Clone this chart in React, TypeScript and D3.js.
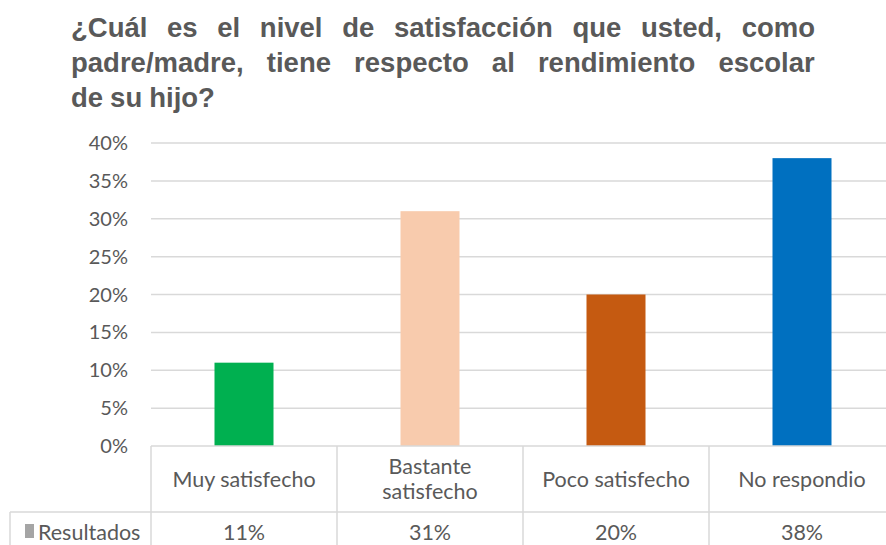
import React, { useEffect, useRef } from "react";
import * as d3 from "d3";

const titleLines = [
  "¿Cuál es el nivel de satisfacción que usted, como",
  "padre/madre, tiene respecto al rendimiento escolar",
  "de su hijo?",
];
const categories = ["Muy satisfecho", "Bastante satisfecho", "Poco satisfecho", "No respondio"];
const categoryLines = [["Muy satisfecho"], ["Bastante", "satisfecho"], ["Poco satisfecho"], ["No respondio"]];
const values = [0.11, 0.31, 0.2, 0.38];
const valueLabels = ["11%", "31%", "20%", "38%"];
const barColors = ["#00B050", "#F8CBAD", "#C55A11", "#0070C0"];
const yTicks = [0, 0.05, 0.1, 0.15, 0.2, 0.25, 0.3, 0.35, 0.4];
const seriesName = "Resultados";

const W = 886;
const H = 545;

export default function App() {
  const ref = useRef<SVGSVGElement>(null);

  useEffect(() => {
    const svg = d3.select(ref.current);
    svg.selectAll("*").remove();

    const textColor = "#595959";
    const lineColor = "#D9D9D9";
    const font = "Lato, 'Open Sans', sans-serif";
    const titleFont = "'Liberation Sans', Arimo, Arial, Helvetica, sans-serif";

    // Title (justified)
    const tLeft = 71, tRight = 815;
    const tg = svg.append("g");
    const layoutTitle = () => {
      tg.selectAll("*").remove();
      titleLines.forEach((line, li) => {
        const words = line.split(" ");
        const y = 37 + li * 35;
        const nodes = words.map((w) =>
          tg.append("text")
            .attr("y", y)
            .style("font-family", titleFont)
            .style("font-weight", "700")
            .style("font-size", "27.5px")
            .attr("fill", textColor)
            .text(w)
        );
        const widths = nodes.map((n) => (n.node() as SVGTextElement).getBBox().width);
        const total = d3.sum(widths);
        const last = li === titleLines.length - 1;
        const gap = last ? 7 : (tRight - tLeft - total) / (words.length - 1);
        let x = tLeft;
        nodes.forEach((n, i) => {
          n.attr("x", x);
          x += widths[i] + gap;
        });
      });
    };
    layoutTitle();
    if ((document as any).fonts && (document as any).fonts.ready) {
      (document as any).fonts.ready.then(layoutTitle);
    }

    const plotLeft = 151;
    const colW = 186;
    const y0 = 446;
    const y1 = 143;
    const x = d3.scaleBand<string>().domain(categories).range([plotLeft, plotLeft + colW * categories.length]).padding(0);
    const y = d3.scaleLinear().domain([0, 0.4]).range([y0, y1]);

    // gridlines
    svg.append("g").selectAll("line").data(yTicks.slice(1)).join("line")
      .attr("x1", plotLeft).attr("x2", W)
      .attr("y1", (d) => y(d)).attr("y2", (d) => y(d))
      .attr("stroke", lineColor).attr("stroke-width", 1.5);

    // tick labels
    svg.append("g").selectAll("text").data(yTicks).join("text")
      .attr("x", 128).attr("y", (d) => y(d)).attr("dy", "0.35em")
      .attr("text-anchor", "end")
      .attr("font-family", font).attr("font-size", 20).attr("fill", textColor)
      .text((d) => d3.format(".0%")(d));

    // bars
    const bw = 59;
    svg.append("g").selectAll("rect").data(values).join("rect")
      .attr("x", (_d, i) => (x(categories[i]) as number) + (colW - bw) / 2)
      .attr("width", bw)
      .attr("y", (d) => y(d))
      .attr("height", (d) => y0 - y(d))
      .attr("fill", (_d, i) => barColors[i]);

    // data table
    const rowMid = 512;
    const tbl = svg.append("g").attr("stroke", lineColor).attr("stroke-width", 1.5);
    tbl.append("line").attr("x1", plotLeft).attr("x2", W).attr("y1", y0).attr("y2", y0);
    tbl.append("line").attr("x1", 10).attr("x2", W).attr("y1", rowMid).attr("y2", rowMid);
    tbl.append("line").attr("x1", 10).attr("x2", 10).attr("y1", rowMid).attr("y2", H);
    categories.forEach((c) => {
      const xx = x(c) as number;
      tbl.append("line").attr("x1", xx).attr("x2", xx).attr("y1", y0).attr("y2", H);
    });

    const tableFs = 21.5;
    // category labels
    categories.forEach((c, i) => {
      const cx = (x(c) as number) + colW / 2;
      const lines = categoryLines[i];
      const lh = 25;
      const startY = (y0 + rowMid) / 2 - ((lines.length - 1) * lh) / 2;
      lines.forEach((l, j) => {
        svg.append("text")
          .attr("x", cx).attr("y", startY + j * lh).attr("dy", "0.35em")
          .attr("text-anchor", "middle")
          .attr("font-family", font).attr("font-size", tableFs).attr("fill", textColor)
          .text(l);
      });
      svg.append("text")
        .attr("x", cx).attr("y", 532).attr("dy", "0.35em")
        .attr("text-anchor", "middle")
        .attr("font-family", font).attr("font-size", tableFs).attr("fill", textColor)
        .text(valueLabels[i]);
    });

    // legend key
    svg.append("rect").attr("x", 25).attr("y", 524).attr("width", 9).attr("height", 14).attr("fill", "#A5A5A5");
    svg.append("text")
      .attr("x", 38).attr("y", 532).attr("dy", "0.35em")
      .attr("font-family", font).attr("font-size", tableFs).attr("fill", textColor)
      .text(seriesName);
  }, []);

  return (
    <svg
      ref={ref}
      width={W}
      height={H}
      style={{ position: "absolute", left: 0, top: 0, background: "#fff" }}
    />
  );
}
